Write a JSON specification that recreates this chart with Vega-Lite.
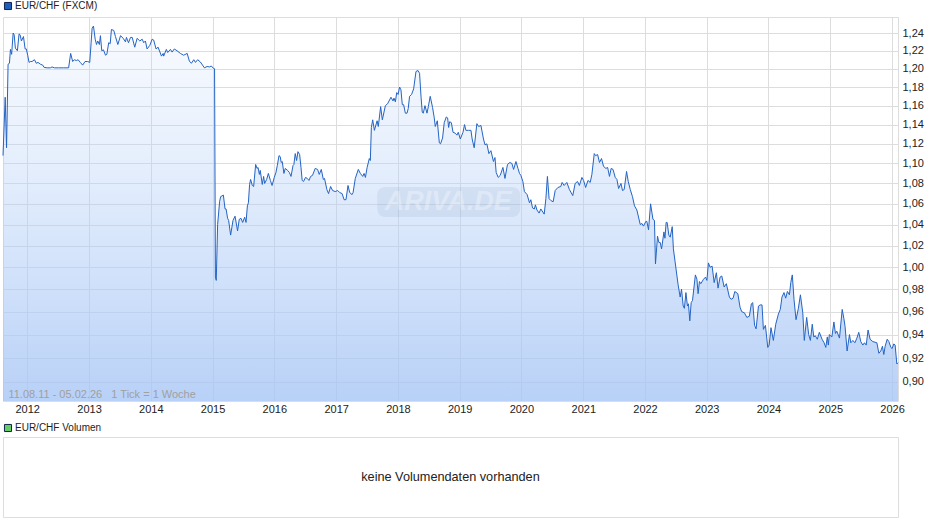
{
"$schema":"https://vega.github.io/schema/vega-lite/v6.json",
"background":"white",
"padding":{"left":0,"top":0,"right":5,"bottom":5},
"spacing":7,
"resolve":{"scale":{"fill":"independent"},"legend":{"fill":"independent"}},
"config":{"font":"Liberation Sans","view":{"stroke":"#dddddd"}},
"datasets":{"eurchf":[
{"d":"2011-08-11","v":1.108},{"d":"2011-08-24","v":1.169},{"d":"2011-09-01","v":1.116},{"d":"2011-09-10","v":1.205},{"d":"2011-09-18","v":1.206},{"d":"2011-09-24","v":1.2215},{"d":"2011-10-01","v":1.216},{"d":"2011-10-10","v":1.24},{"d":"2011-10-16","v":1.238},{"d":"2011-10-23","v":1.223},{"d":"2011-11-04","v":1.22},{"d":"2011-11-14","v":1.239},{"d":"2011-11-20","v":1.238},{"d":"2011-11-28","v":1.231},{"d":"2011-12-10","v":1.236},{"d":"2011-12-20","v":1.222},{"d":"2011-12-27","v":1.222},
{"d":"2012-01-04","v":1.215},{"d":"2012-01-12","v":1.207},{"d":"2012-01-20","v":1.208},{"d":"2012-01-30","v":1.208},{"d":"2012-02-13","v":1.21},{"d":"2012-02-24","v":1.206},{"d":"2012-03-05","v":1.207},{"d":"2012-03-19","v":1.205},{"d":"2012-04-02","v":1.204},{"d":"2012-04-10","v":1.2015},{"d":"2012-04-28","v":1.201},{"d":"2012-05-17","v":1.201},{"d":"2012-05-27","v":1.202},{"d":"2012-06-10","v":1.201},{"d":"2012-07-05","v":1.201},{"d":"2012-08-04","v":1.201},{"d":"2012-09-02","v":1.201},{"d":"2012-09-14","v":1.217},{"d":"2012-09-26","v":1.208},{"d":"2012-10-06","v":1.21},{"d":"2012-10-18","v":1.209},{"d":"2012-10-28","v":1.21},{"d":"2012-11-10","v":1.207},{"d":"2012-11-24","v":1.204},{"d":"2012-12-08","v":1.208},{"d":"2012-12-23","v":1.208},
{"d":"2013-01-05","v":1.207},{"d":"2013-01-13","v":1.229},{"d":"2013-01-19","v":1.2455},{"d":"2013-01-27","v":1.248},{"d":"2013-02-06","v":1.233},{"d":"2013-02-14","v":1.227},{"d":"2013-02-21","v":1.231},{"d":"2013-03-03","v":1.227},{"d":"2013-03-09","v":1.237},{"d":"2013-03-17","v":1.22},{"d":"2013-03-27","v":1.221},{"d":"2013-04-08","v":1.215},{"d":"2013-04-16","v":1.216},{"d":"2013-04-27","v":1.229},{"d":"2013-05-06","v":1.228},{"d":"2013-05-13","v":1.244},{"d":"2013-05-27","v":1.243},{"d":"2013-06-06","v":1.236},{"d":"2013-06-20","v":1.227},{"d":"2013-07-06","v":1.237},{"d":"2013-07-22","v":1.234},{"d":"2013-08-04","v":1.23},{"d":"2013-08-10","v":1.235},{"d":"2013-08-22","v":1.229},{"d":"2013-09-03","v":1.235},{"d":"2013-09-13","v":1.235},{"d":"2013-09-28","v":1.224},{"d":"2013-10-12","v":1.234},{"d":"2013-10-28","v":1.231},{"d":"2013-11-11","v":1.233},{"d":"2013-11-20","v":1.229},{"d":"2013-11-30","v":1.231},{"d":"2013-12-10","v":1.222},{"d":"2013-12-26","v":1.226},
{"d":"2014-01-09","v":1.233},{"d":"2014-01-18","v":1.232},{"d":"2014-02-01","v":1.222},{"d":"2014-02-13","v":1.224},{"d":"2014-03-05","v":1.214},{"d":"2014-03-15","v":1.217},{"d":"2014-03-18","v":1.214},{"d":"2014-04-03","v":1.2215},{"d":"2014-04-11","v":1.218},{"d":"2014-04-27","v":1.2215},{"d":"2014-05-07","v":1.2185},{"d":"2014-05-20","v":1.222},{"d":"2014-06-05","v":1.22},{"d":"2014-06-25","v":1.217},{"d":"2014-07-14","v":1.215},{"d":"2014-08-04","v":1.217},{"d":"2014-08-17","v":1.2085},{"d":"2014-08-29","v":1.206},{"d":"2014-09-12","v":1.21},{"d":"2014-09-22","v":1.207},{"d":"2014-10-05","v":1.21},{"d":"2014-10-21","v":1.2075},{"d":"2014-11-14","v":1.201},{"d":"2014-11-30","v":1.2025},{"d":"2014-12-13","v":1.202},{"d":"2014-12-25","v":1.203},
{"d":"2015-01-06","v":1.2005},{"d":"2015-01-13","v":1.2},{"d":"2015-01-18","v":0.991},{"d":"2015-01-23","v":0.988},{"d":"2015-01-31","v":1.04},{"d":"2015-02-12","v":1.0625},{"d":"2015-02-18","v":1.067},{"d":"2015-03-06","v":1.0685},{"d":"2015-03-16","v":1.055},{"d":"2015-03-22","v":1.055},{"d":"2015-03-31","v":1.046},{"d":"2015-04-06","v":1.044},{"d":"2015-04-18","v":1.03},{"d":"2015-05-02","v":1.044},{"d":"2015-05-14","v":1.048},{"d":"2015-05-29","v":1.034},{"d":"2015-06-08","v":1.045},{"d":"2015-06-18","v":1.046},{"d":"2015-06-28","v":1.042},{"d":"2015-07-10","v":1.047},{"d":"2015-07-18","v":1.042},{"d":"2015-07-26","v":1.058},{"d":"2015-08-01","v":1.061},{"d":"2015-08-08","v":1.079},{"d":"2015-08-14","v":1.084},{"d":"2015-08-24","v":1.078},{"d":"2015-09-01","v":1.077},{"d":"2015-09-13","v":1.099},{"d":"2015-09-21","v":1.095},{"d":"2015-09-27","v":1.096},{"d":"2015-10-05","v":1.089},{"d":"2015-10-10","v":1.093},{"d":"2015-10-22","v":1.079},{"d":"2015-10-30","v":1.087},{"d":"2015-11-05","v":1.08},{"d":"2015-11-17","v":1.084},{"d":"2015-11-27","v":1.09},{"d":"2015-12-09","v":1.083},{"d":"2015-12-19","v":1.078},
{"d":"2016-01-01","v":1.086},{"d":"2016-01-11","v":1.091},{"d":"2016-01-19","v":1.098},{"d":"2016-01-29","v":1.108},{"d":"2016-02-05","v":1.107},{"d":"2016-02-11","v":1.101},{"d":"2016-02-17","v":1.102},{"d":"2016-02-27","v":1.09},{"d":"2016-03-06","v":1.095},{"d":"2016-03-20","v":1.093},{"d":"2016-03-30","v":1.091},{"d":"2016-04-09","v":1.087},{"d":"2016-04-21","v":1.098},{"d":"2016-04-26","v":1.099},{"d":"2016-05-04","v":1.11},{"d":"2016-05-12","v":1.103},{"d":"2016-05-20","v":1.112},{"d":"2016-05-30","v":1.109},{"d":"2016-06-07","v":1.096},{"d":"2016-06-14","v":1.083},{"d":"2016-06-22","v":1.082},{"d":"2016-07-04","v":1.086},{"d":"2016-07-14","v":1.085},{"d":"2016-07-24","v":1.083},{"d":"2016-08-03","v":1.087},{"d":"2016-08-14","v":1.088},{"d":"2016-08-30","v":1.095},{"d":"2016-09-13","v":1.094},{"d":"2016-09-23","v":1.089},{"d":"2016-10-05","v":1.094},{"d":"2016-10-17","v":1.084},{"d":"2016-10-24","v":1.085},{"d":"2016-11-07","v":1.074},{"d":"2016-11-17","v":1.07},{"d":"2016-11-29","v":1.077},{"d":"2016-12-11","v":1.073},{"d":"2016-12-26","v":1.072},
{"d":"2017-01-10","v":1.073},{"d":"2017-01-22","v":1.071},{"d":"2017-02-05","v":1.07},{"d":"2017-02-17","v":1.064},{"d":"2017-02-28","v":1.064},{"d":"2017-03-12","v":1.078},{"d":"2017-03-22","v":1.071},{"d":"2017-04-05","v":1.069},{"d":"2017-04-11","v":1.071},{"d":"2017-04-24","v":1.085},{"d":"2017-05-12","v":1.094},{"d":"2017-05-24","v":1.09},{"d":"2017-06-07","v":1.087},{"d":"2017-06-15","v":1.09},{"d":"2017-06-23","v":1.086},{"d":"2017-07-03","v":1.096},{"d":"2017-07-16","v":1.105},{"d":"2017-07-22","v":1.103},{"d":"2017-07-28","v":1.137},{"d":"2017-08-05","v":1.145},{"d":"2017-08-15","v":1.134},{"d":"2017-08-31","v":1.144},{"d":"2017-09-07","v":1.138},{"d":"2017-09-21","v":1.159},{"d":"2017-10-01","v":1.145},{"d":"2017-10-19","v":1.16},{"d":"2017-11-01","v":1.162},{"d":"2017-11-21","v":1.169},{"d":"2017-12-03","v":1.165},{"d":"2017-12-09","v":1.168},{"d":"2017-12-17","v":1.164},{"d":"2017-12-25","v":1.174},
{"d":"2018-01-02","v":1.172},{"d":"2018-01-11","v":1.18},{"d":"2018-01-19","v":1.177},{"d":"2018-01-27","v":1.161},{"d":"2018-02-04","v":1.161},{"d":"2018-02-14","v":1.152},{"d":"2018-02-24","v":1.152},{"d":"2018-03-03","v":1.157},{"d":"2018-03-11","v":1.17},{"d":"2018-03-23","v":1.172},{"d":"2018-04-04","v":1.178},{"d":"2018-04-18","v":1.197},{"d":"2018-04-30","v":1.198},{"d":"2018-05-09","v":1.195},{"d":"2018-05-18","v":1.169},{"d":"2018-05-25","v":1.153},{"d":"2018-05-31","v":1.152},{"d":"2018-06-10","v":1.16},{"d":"2018-06-22","v":1.152},{"d":"2018-06-30","v":1.159},{"d":"2018-07-11","v":1.17},{"d":"2018-07-25","v":1.158},{"d":"2018-08-04","v":1.147},{"d":"2018-08-10","v":1.138},{"d":"2018-08-22","v":1.144},{"d":"2018-09-03","v":1.121},{"d":"2018-09-10","v":1.12},{"d":"2018-09-22","v":1.126},{"d":"2018-10-02","v":1.142},{"d":"2018-10-14","v":1.148},{"d":"2018-10-22","v":1.147},{"d":"2018-10-28","v":1.137},{"d":"2018-11-03","v":1.143},{"d":"2018-11-13","v":1.142},{"d":"2018-11-23","v":1.132},{"d":"2018-12-06","v":1.131},{"d":"2018-12-16","v":1.129},{"d":"2018-12-24","v":1.132},
{"d":"2019-01-05","v":1.125},{"d":"2019-01-21","v":1.132},{"d":"2019-01-30","v":1.14},{"d":"2019-02-07","v":1.134},{"d":"2019-02-23","v":1.134},{"d":"2019-03-09","v":1.134},{"d":"2019-03-16","v":1.125},{"d":"2019-03-28","v":1.116},{"d":"2019-04-13","v":1.141},{"d":"2019-04-23","v":1.138},{"d":"2019-05-07","v":1.139},{"d":"2019-05-22","v":1.125},{"d":"2019-05-31","v":1.119},{"d":"2019-06-11","v":1.12},{"d":"2019-06-23","v":1.11},{"d":"2019-07-05","v":1.113},{"d":"2019-07-20","v":1.102},{"d":"2019-07-29","v":1.106},{"d":"2019-08-05","v":1.091},{"d":"2019-08-17","v":1.086},{"d":"2019-08-29","v":1.088},{"d":"2019-09-14","v":1.096},{"d":"2019-09-26","v":1.085},{"d":"2019-10-11","v":1.099},{"d":"2019-10-25","v":1.101},{"d":"2019-11-06","v":1.1},{"d":"2019-11-16","v":1.094},{"d":"2019-11-30","v":1.102},{"d":"2019-12-12","v":1.095},{"d":"2019-12-21","v":1.09},{"d":"2019-12-29","v":1.088},
{"d":"2020-01-10","v":1.082},{"d":"2020-01-19","v":1.072},{"d":"2020-02-04","v":1.069},{"d":"2020-02-18","v":1.061},{"d":"2020-02-26","v":1.064},{"d":"2020-03-07","v":1.056},{"d":"2020-03-18","v":1.055},{"d":"2020-03-24","v":1.059},{"d":"2020-04-02","v":1.054},{"d":"2020-04-15","v":1.051},{"d":"2020-04-25","v":1.055},{"d":"2020-05-15","v":1.05},{"d":"2020-05-25","v":1.065},{"d":"2020-06-03","v":1.087},{"d":"2020-06-13","v":1.065},{"d":"2020-06-25","v":1.063},{"d":"2020-07-07","v":1.062},{"d":"2020-07-19","v":1.073},{"d":"2020-08-04","v":1.076},{"d":"2020-08-21","v":1.077},{"d":"2020-08-29","v":1.081},{"d":"2020-09-10","v":1.078},{"d":"2020-09-26","v":1.081},{"d":"2020-10-11","v":1.074},{"d":"2020-10-31","v":1.068},{"d":"2020-11-14","v":1.08},{"d":"2020-11-28","v":1.082},{"d":"2020-12-09","v":1.078},{"d":"2020-12-24","v":1.086},
{"d":"2021-01-03","v":1.083},{"d":"2021-01-15","v":1.076},{"d":"2021-01-29","v":1.083},{"d":"2021-02-11","v":1.081},{"d":"2021-02-21","v":1.089},{"d":"2021-03-07","v":1.11},{"d":"2021-03-15","v":1.108},{"d":"2021-03-27","v":1.109},{"d":"2021-04-07","v":1.101},{"d":"2021-04-19","v":1.105},{"d":"2021-05-01","v":1.097},{"d":"2021-05-15","v":1.095},{"d":"2021-05-25","v":1.096},{"d":"2021-06-05","v":1.087},{"d":"2021-06-15","v":1.095},{"d":"2021-06-26","v":1.094},{"d":"2021-07-09","v":1.086},{"d":"2021-07-19","v":1.084},{"d":"2021-07-29","v":1.075},{"d":"2021-08-12","v":1.08},{"d":"2021-08-21","v":1.073},{"d":"2021-08-31","v":1.074},{"d":"2021-09-14","v":1.092},{"d":"2021-09-24","v":1.082},{"d":"2021-10-06","v":1.074},{"d":"2021-10-19","v":1.067},{"d":"2021-10-31","v":1.058},{"d":"2021-11-14","v":1.054},{"d":"2021-12-04","v":1.04},{"d":"2021-12-14","v":1.041},{"d":"2021-12-23","v":1.0385},
{"d":"2022-01-06","v":1.043},{"d":"2022-01-12","v":1.043},{"d":"2022-01-22","v":1.035},{"d":"2022-02-03","v":1.06},{"d":"2022-02-17","v":1.045},{"d":"2022-02-26","v":1.044},{"d":"2022-03-04","v":1.003},{"d":"2022-03-16","v":1.029},{"d":"2022-03-24","v":1.023},{"d":"2022-04-01","v":1.023},{"d":"2022-04-09","v":1.017},{"d":"2022-04-23","v":1.033},{"d":"2022-04-29","v":1.027},{"d":"2022-05-06","v":1.042},{"d":"2022-05-12","v":1.042},{"d":"2022-05-22","v":1.03},{"d":"2022-05-30","v":1.028},{"d":"2022-06-11","v":1.038},{"d":"2022-06-18","v":1.017},{"d":"2022-06-28","v":1.005},{"d":"2022-07-09","v":0.992},{"d":"2022-07-16","v":0.984},{"d":"2022-07-28","v":0.973},{"d":"2022-08-05","v":0.98},{"d":"2022-08-15","v":0.965},{"d":"2022-08-22","v":0.963},{"d":"2022-08-31","v":0.977},{"d":"2022-09-09","v":0.965},{"d":"2022-09-15","v":0.967},{"d":"2022-09-23","v":0.952},{"d":"2022-10-01","v":0.968},{"d":"2022-10-09","v":0.97},{"d":"2022-10-26","v":0.993},{"d":"2022-11-04","v":0.989},{"d":"2022-11-11","v":0.976},{"d":"2022-11-19","v":0.987},{"d":"2022-11-27","v":0.985},{"d":"2022-12-13","v":0.989},{"d":"2022-12-25","v":0.991},
{"d":"2023-01-02","v":0.988},{"d":"2023-01-11","v":1.004},{"d":"2023-01-21","v":1.0},{"d":"2023-02-02","v":1.001},{"d":"2023-02-14","v":0.986},{"d":"2023-02-27","v":0.995},{"d":"2023-03-09","v":0.981},{"d":"2023-03-21","v":0.991},{"d":"2023-03-31","v":0.992},{"d":"2023-04-14","v":0.982},{"d":"2023-04-27","v":0.985},{"d":"2023-05-15","v":0.973},{"d":"2023-05-25","v":0.971},{"d":"2023-06-06","v":0.972},{"d":"2023-06-16","v":0.978},{"d":"2023-07-04","v":0.976},{"d":"2023-07-17","v":0.964},{"d":"2023-07-27","v":0.96},{"d":"2023-08-12","v":0.959},{"d":"2023-08-26","v":0.955},{"d":"2023-09-10","v":0.956},{"d":"2023-09-22","v":0.967},{"d":"2023-09-30","v":0.968},{"d":"2023-10-11","v":0.948},{"d":"2023-10-20","v":0.945},{"d":"2023-11-03","v":0.965},{"d":"2023-11-13","v":0.966},{"d":"2023-11-24","v":0.966},{"d":"2023-12-02","v":0.9445},{"d":"2023-12-14","v":0.948},{"d":"2023-12-28","v":0.929},
{"d":"2024-01-05","v":0.931},{"d":"2024-01-16","v":0.946},{"d":"2024-01-30","v":0.935},{"d":"2024-02-13","v":0.949},{"d":"2024-02-29","v":0.958},{"d":"2024-03-11","v":0.962},{"d":"2024-03-21","v":0.973},{"d":"2024-04-02","v":0.977},{"d":"2024-04-12","v":0.972},{"d":"2024-04-22","v":0.978},{"d":"2024-05-04","v":0.975},{"d":"2024-05-12","v":0.986},{"d":"2024-05-21","v":0.993},{"d":"2024-05-31","v":0.971},{"d":"2024-06-12","v":0.953},{"d":"2024-06-26","v":0.963},{"d":"2024-07-08","v":0.975},{"d":"2024-07-22","v":0.959},{"d":"2024-07-31","v":0.935},{"d":"2024-08-14","v":0.955},{"d":"2024-08-26","v":0.94},{"d":"2024-09-05","v":0.935},{"d":"2024-09-16","v":0.949},{"d":"2024-09-25","v":0.938},{"d":"2024-10-04","v":0.939},{"d":"2024-10-16","v":0.936},{"d":"2024-10-28","v":0.942},{"d":"2024-11-13","v":0.936},{"d":"2024-11-25","v":0.933},{"d":"2024-12-05","v":0.929},{"d":"2024-12-14","v":0.938},{"d":"2024-12-20","v":0.931},{"d":"2024-12-26","v":0.94},
{"d":"2025-01-10","v":0.938},{"d":"2025-01-22","v":0.951},{"d":"2025-01-31","v":0.941},{"d":"2025-02-08","v":0.943},{"d":"2025-02-24","v":0.937},{"d":"2025-03-12","v":0.962},{"d":"2025-03-22","v":0.954},{"d":"2025-03-29","v":0.947},{"d":"2025-04-10","v":0.926},{"d":"2025-04-24","v":0.94},{"d":"2025-05-02","v":0.933},{"d":"2025-05-14","v":0.935},{"d":"2025-05-26","v":0.933},{"d":"2025-06-07","v":0.937},{"d":"2025-06-18","v":0.942},{"d":"2025-06-30","v":0.934},{"d":"2025-07-12","v":0.931},{"d":"2025-07-22","v":0.933},{"d":"2025-08-01","v":0.931},{"d":"2025-08-12","v":0.944},{"d":"2025-08-24","v":0.936},{"d":"2025-09-09","v":0.934},{"d":"2025-10-03","v":0.933},{"d":"2025-10-15","v":0.924},{"d":"2025-10-26","v":0.926},{"d":"2025-11-05","v":0.93},{"d":"2025-11-13","v":0.923},{"d":"2025-11-21","v":0.93},{"d":"2025-12-03","v":0.936},{"d":"2025-12-13","v":0.934},{"d":"2025-12-25","v":0.929},
{"d":"2026-01-01","v":0.928},{"d":"2026-01-11","v":0.932},{"d":"2026-01-19","v":0.931},{"d":"2026-01-29","v":0.915},{"d":"2026-02-05","v":0.916}
]},
"vconcat":[
{
"width":895,
"height":384,
"encoding":{
"x":{"field":"d","type":"temporal","title":null,
"scale":{"type":"utc","domain":["2011-08-11","2026-02-05"]},
"axis":{"values":["2012-01-01","2013-01-01","2014-01-01","2015-01-01","2016-01-01","2017-01-01","2018-01-01","2019-01-01","2020-01-01","2021-01-01","2022-01-01","2023-01-01","2024-01-01","2025-01-01","2026-01-01"],"format":"%Y","domain":false,"ticks":false,"labelFontSize":11,"labelColor":"#222222","labelPadding":2,"labelFlush":false,"grid":true,"gridColor":"#dddddd","gridWidth":1}},
"y":{"field":"v","type":"quantitative","title":null,
"scale":{"type":"log","domain":[0.8844,1.2584],"nice":false,"zero":false},
"axis":{"orient":"right","values":[0.9,0.92,0.94,0.96,0.98,1,1.02,1.04,1.06,1.08,1.1,1.12,1.14,1.16,1.18,1.2,1.22,1.24],"labelExpr":"replace(format(datum.value,'.2f'),'.',',')","domain":false,"ticks":false,"labelFontSize":11,"labelColor":"#222222","labelPadding":4,"grid":true,"gridColor":"#dddddd","gridWidth":1}}
},
"layer":[
{"data":{"name":"eurchf"},
"mark":{"type":"area","color":{"gradient":"linear","x1":0,"y1":0,"x2":0,"y2":1,"stops":[{"offset":0,"color":"rgba(190,215,250,0.1)"},{"offset":1,"color":"rgba(166,197,245,0.8)"}]}},
"encoding":{"y2":{"datum":0.8844}}},
{"data":{"values":[{"d":"2017-09-01","d2":"2019-12-25","v":1.0766,"v2":1.0473}]},
"mark":{"type":"rect","cornerRadius":8,"color":"#5a78aa","opacity":0.1},
"encoding":{"x2":{"field":"d2"},"y2":{"field":"v2"}}},
{"data":{"values":[{"d":"2018-10-25","v":1.0618,"label":"ARIVA.DE"}]},
"mark":{"type":"text","font":"Liberation Sans","fontStyle":"italic","fontWeight":"bold","fontSize":27,"color":"#ffffff","opacity":0.3,"align":"center","baseline":"middle"},
"encoding":{"text":{"field":"label"}}},
{"data":{"name":"eurchf"},
"mark":{"type":"line","color":"#2464c4","strokeWidth":1,"interpolate":"linear"}},
{"data":{"values":[{"d":"2011-09-12","v":0.8889,"label":"11.08.11 - 05.02.26\u00a0\u00a0\u00a01 Tick = 1 Woche"}]},
"mark":{"type":"text","fontSize":11,"color":"#a0a0a0","align":"left","baseline":"middle"},
"encoding":{"text":{"field":"label"}}},
{"data":{"values":[]},
"mark":{"type":"square"},
"encoding":{"fill":{"datum":"EUR/CHF (FXCM)","scale":{"range":["#1f5ebd"]},
"legend":{"title":null,"orient":"none","legendX":0,"legendY":-16,"symbolType":"square","symbolSize":50,"symbolStrokeColor":"#10254a","symbolStrokeWidth":1,"symbolOpacity":1,"labelFontSize":10,"labelColor":"#222222","labelOffset":2,"labelLimit":300}}}}
]
},
{
"width":895,
"height":80,
"data":{"values":[{"px":0.5,"py":0.5,"label":"keine Volumendaten vorhanden"}]},
"encoding":{
"x":{"field":"px","type":"quantitative","scale":{"domain":[0,1]},"axis":null},
"y":{"field":"py","type":"quantitative","scale":{"domain":[0,1]},"axis":null}
},
"layer":[
{"mark":{"type":"text","fontSize":12.7,"color":"#222222","align":"center","baseline":"middle"},
"encoding":{"text":{"field":"label"}}},
{"data":{"values":[]},
"mark":{"type":"square"},
"encoding":{"fill":{"datum":"EUR/CHF Volumen","scale":{"range":["#66cc66"]},
"legend":{"title":null,"orient":"none","legendX":0,"legendY":-14,"symbolType":"square","symbolSize":50,"symbolStrokeColor":"#10254a","symbolStrokeWidth":1,"symbolOpacity":1,"labelFontSize":10,"labelColor":"#222222","labelOffset":2,"labelLimit":300}}}}
]
}
]
}
